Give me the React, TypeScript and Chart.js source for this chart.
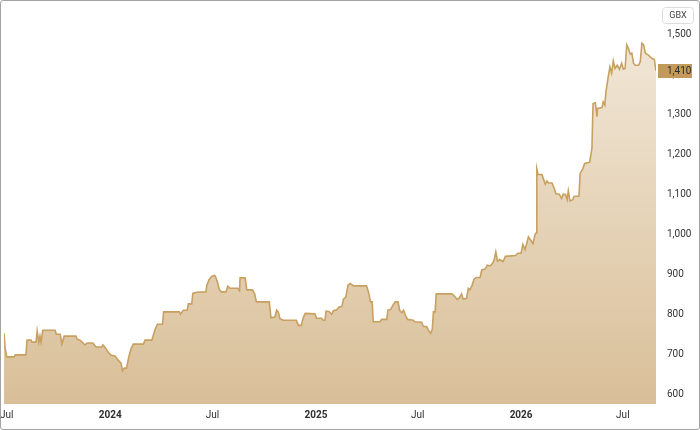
import React, { useEffect, useRef } from "react";
import { Chart, registerables } from "chart.js";

Chart.register(...registerables);

const START_DATE = "2023-06-26";

// trading-day offsets (days since START_DATE)
const days = [
  0, 2, 5, 18, 20, 39, 41, 48, 50, 57,
  59, 62, 64, 66, 69, 91, 93, 100, 103, 107,
  128, 130, 135, 139, 144, 148, 158, 164, 174, 176,
  181, 185, 190, 198, 203, 208, 211, 214, 218, 222,
  226, 230, 248, 251, 263, 269, 273, 282, 284, 312,
  314, 319, 326, 328, 334, 336, 343, 359, 361, 365,
  370, 375, 377, 380, 383, 387, 395, 398, 402, 416,
  419, 420, 429, 432, 442, 446, 449, 472, 475, 482,
  485, 488, 491, 497, 520, 524, 529, 532, 536, 553,
  556, 565, 568, 571, 573, 578, 583, 586, 592, 596,
  601, 604, 608, 612, 616, 622, 645, 649, 652, 655,
  657, 669, 672, 681, 683, 688, 692, 696, 701, 704,
  708, 711, 714, 718, 728, 731, 743, 746, 752, 755,
  759, 762, 764, 767, 769, 797, 801, 806, 810, 814,
  817, 823, 826, 829, 833, 836, 840, 847, 850, 856,
  860, 865, 869, 872, 875, 878, 882, 888, 892, 910,
  914, 920, 923, 927, 933, 937, 941, 945, 947, 948,
  950, 957, 960, 963, 966, 969, 975, 979, 982, 988,
  992, 995, 999, 1002, 1004, 1007, 1012, 1014, 1023, 1025,
  1030, 1033, 1042, 1046, 1048, 1052, 1055, 1056, 1064, 1066,
  1069, 1071, 1075, 1078, 1081, 1084, 1087, 1091, 1095, 1099,
  1102, 1105, 1108, 1111, 1114, 1117, 1120, 1123, 1129, 1132,
  1135, 1138, 1141, 1146, 1153, 1157, 1160,
];

// price in GBX
const prices = [
  753, 715, 693, 693, 698, 698, 735, 735, 730, 730,
  758, 730, 745, 730, 760, 760, 750, 750, 725, 745,
  745, 738, 735, 730, 723, 728, 728, 718, 718, 723,
  715, 705, 698, 695, 685, 678, 658, 665, 665, 693,
  713, 725, 725, 735, 735, 763, 775, 775, 806, 806,
  800, 810, 810, 826, 826, 852, 855, 856, 873, 887,
  895, 897, 892, 879, 862, 856, 856, 870, 865, 865,
  859, 891, 891, 861, 861, 851, 831, 831, 791, 793,
  810, 805, 789, 785, 785, 772, 772, 790, 802, 801,
  790, 790, 785, 785, 808, 807, 800, 809, 811, 818,
  819, 838, 843, 873, 877, 871, 871, 853, 831, 831,
  781, 781, 787, 787, 810, 812, 823, 831, 831, 809,
  804, 810, 798, 787, 785, 781, 780, 770, 769, 760,
  752, 763, 806, 806, 851, 851, 846, 837, 841, 851,
  838, 840, 865, 861, 873, 887, 892, 892, 911, 913,
  923, 921, 927, 936, 956, 933, 937, 932, 945, 947,
  953, 953, 975, 962, 994, 986, 977, 1001, 1004, 1164,
  1151, 1150, 1138, 1126, 1134, 1129, 1129, 1115, 1102, 1101,
  1090, 1101, 1100, 1087, 1109, 1084, 1087, 1095, 1096, 1153,
  1165, 1178, 1181, 1216, 1328, 1330, 1295, 1316, 1318, 1332,
  1324, 1358, 1395, 1420, 1404, 1435, 1416, 1424, 1414, 1429,
  1414, 1416, 1475, 1466, 1452, 1454, 1429, 1424, 1424, 1433,
  1479, 1475, 1454, 1450, 1441, 1439, 1410,
];

const tickDates = ["2023-07-01", "2024-01-01", "2024-07-01", "2025-01-01", "2025-07-01", "2026-01-01", "2026-07-01"];
const tickLabels = ["Jul", "2024", "Jul", "2025", "Jul", "2026", "Jul"];
const yTicks = [600, 700, 800, 900, 1000, 1100, 1200, 1300, 1400, 1500];
const currency = "GBX";

const X_MIN = 0;
const X_MAX = 1160;
const Y_MIN = 575;
const Y_MAX = 1567.5;

const FONT = "Roboto, 'Noto Sans', sans-serif";

const dayOf = (s: string) => (Date.parse(s) - Date.parse(START_DATE)) / 86400000;

export default function App() {
  const ref = useRef<HTMLCanvasElement | null>(null);

  useEffect(() => {
    document.body.style.margin = "0";
    const canvas = ref.current;
    if (!canvas) return;

    const tickPos = tickDates.map(dayOf);
    const labelMap: Record<number, string> = {};
    tickPos.forEach((p, i) => (labelMap[p] = tickLabels[i]));
    const last = prices[prices.length - 1];

    const overlay = {
      id: "overlay",
      afterDraw(chart: any) {
        const c = chart.ctx;
        const y = chart.scales.y.getPixelForValue(last);
        c.save();
        // last value badge
        c.fillStyle = "#c49a5c";
        c.fillRect(658, Math.round(y) - 7, 34, 14);
        c.fillStyle = "#2b2b2b";
        c.font = `10px ${FONT}`;
        c.textAlign = "left";
        c.textBaseline = "middle";
        c.fillText(last.toLocaleString("en-US"), 667, y + 0.5);
        // currency box
        c.strokeStyle = "#dddddd";
        c.lineWidth = 1;
        c.fillStyle = "#ffffff";
        const bx = 662.5, by = 7.5, bw = 31, bh = 16, r = 3;
        c.beginPath();
        c.moveTo(bx + r, by);
        c.lineTo(bx + bw - r, by);
        c.quadraticCurveTo(bx + bw, by, bx + bw, by + r);
        c.lineTo(bx + bw, by + bh - r);
        c.quadraticCurveTo(bx + bw, by + bh, bx + bw - r, by + bh);
        c.lineTo(bx + r, by + bh);
        c.quadraticCurveTo(bx, by + bh, bx, by + bh - r);
        c.lineTo(bx, by + r);
        c.quadraticCurveTo(bx, by, bx + r, by);
        c.closePath();
        c.fill();
        c.stroke();
        c.fillStyle = "#444444";
        c.font = `9px ${FONT}`;
        c.textAlign = "center";
        c.fillText(currency, bx + bw / 2, by + bh / 2 + 0.5);
        c.restore();
      },
    };

    const chart = new Chart(canvas, {
      type: "line",
      data: {
        datasets: [
          {
            data: days.map((d, i) => ({ x: d, y: prices[i] })),
            borderColor: "#c8a060",
            borderWidth: 1.6,
            pointRadius: 0,
            tension: 0,
            fill: "start",
            backgroundColor: (ctx: any) => {
              const { chart } = ctx;
              const area = chart.chartArea;
              if (!area) return "#e4d2b6";
              const g = chart.ctx.createLinearGradient(0, area.top, 0, area.bottom);
              g.addColorStop(0, "#f3eadc");
              g.addColorStop(1, "#d9bf98");
              return g;
            },
          },
        ],
      },
      options: {
        animation: false,
        responsive: false,
        devicePixelRatio: 1,
        layout: { padding: { left: 4, top: 8, right: 0, bottom: 0 } },
        plugins: { legend: { display: false }, tooltip: { enabled: false } },
        scales: {
          x: {
            type: "linear",
            min: X_MIN,
            max: X_MAX,
            grid: { display: false, drawTicks: false },
            border: { display: false },
            afterBuildTicks: (scale: any) => {
              scale.ticks = tickPos.map((v) => ({ value: v }));
            },
            afterFit: (scale: any) => {
              scale.height = 26;
              scale.paddingLeft = 0;
              scale.paddingRight = 0;
            },
            ticks: {
              autoSkip: false,
              maxRotation: 0,
              padding: 5,
              color: "#2f2f2f",
              font: (ctx: any) => {
                const lbl = labelMap[ctx.tick?.value];
                const bold = lbl && /\d/.test(lbl);
                return { family: FONT, size: 10, weight: bold ? "bold" : "normal" };
              },
              callback: (v: any) => labelMap[v] ?? "",
            },
          },
          y: {
            type: "linear",
            position: "right",
            min: Y_MIN,
            max: Y_MAX,
            grid: { display: false, drawTicks: false },
            border: { display: false },
            afterBuildTicks: (scale: any) => {
              scale.ticks = yTicks.map((v) => ({ value: v }));
            },
            afterFit: (scale: any) => {
              scale.width = 44;
              scale.paddingTop = 0;
              scale.paddingBottom = 0;
            },
            ticks: {
              padding: 11,
              color: "#333333",
              font: { family: FONT, size: 10 },
              callback: (v: any) => Number(v).toLocaleString("en-US"),
            },
          },
        },
      },
      plugins: [overlay],
    } as any);

    return () => chart.destroy();
  }, []);

  return (
    <div style={{ position: "relative", width: 700, height: 430, background: "#ffffff" }}>
      <canvas ref={ref} width={700} height={430} style={{ display: "block", width: 700, height: 430 }} />
      <div
        style={{
          position: "absolute",
          left: 0,
          top: 0,
          width: 700,
          height: 430,
          boxSizing: "border-box",
          border: "1px solid #a3a3a3",
          borderRadius: 3,
          pointerEvents: "none",
        }}
      />
    </div>
  );
}
